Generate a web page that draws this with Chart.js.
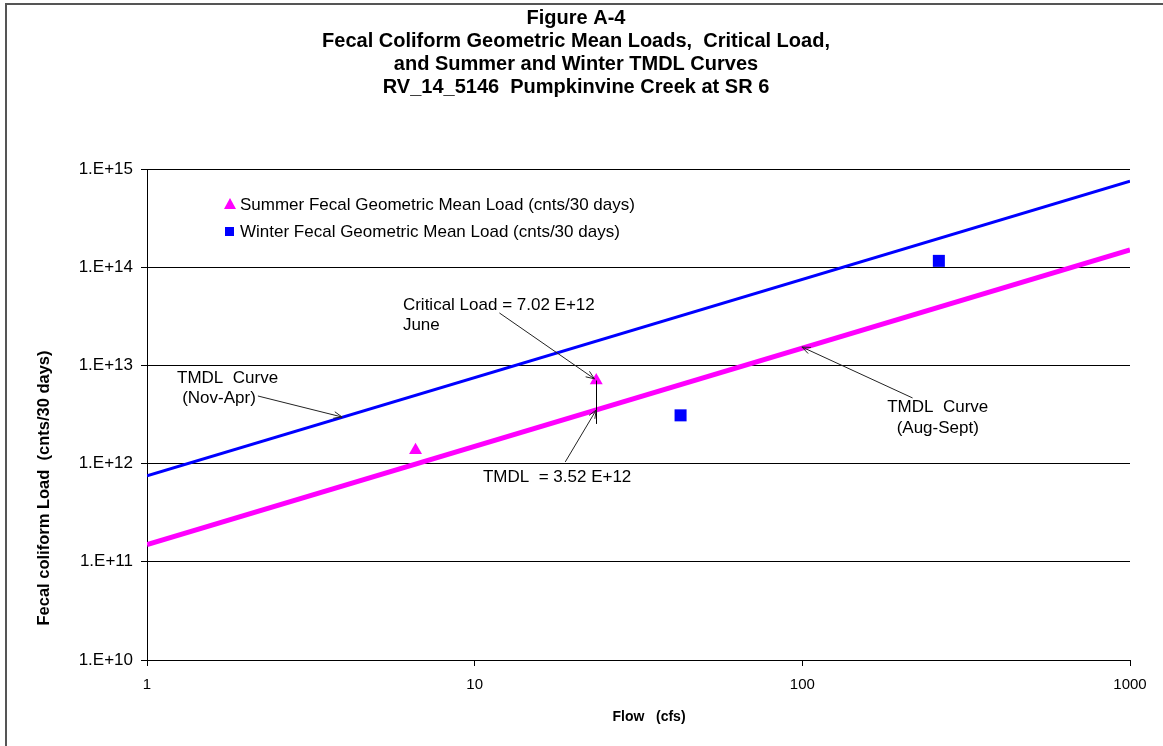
<!DOCTYPE html>
<html>
<head>
<meta charset="utf-8">
<title>Figure A-4</title>
<script src="https://cdn.jsdelivr.net/npm/chart.js@4.4.1/dist/chart.umd.min.js"></script>
<style>
  html, body { margin: 0; padding: 0; background: #fff; }
  #wrap { width: 1163px; height: 746px; position: relative; }
</style>
</head>
<body>
<div id="wrap"><canvas id="chart"></canvas></div>
<script>
// ---- data ----
const titleLines = [
  "Figure A-4",
  "Fecal Coliform Geometric Mean Loads,  Critical Load,",
  "and Summer and Winter TMDL Curves",
  "RV_14_5146  Pumpkinvine Creek at SR 6"
];

const curveFlows = [1, 1000];
const winterCurveLoads = [7.5e11, 7.5e14];   // TMDL curve Nov-Apr
const summerCurveLoads = [1.5e11, 1.5e14];   // TMDL curve Aug-Sept

const summerFlows = [6.6, 23.5];
const summerLoads = [1.37e12, 7.02e12];
const winterFlows = [42.5, 261];
const winterLoads = [3.1e12, 1.16e14];

const criticalFlow = 23.5;
const criticalLoad = 7.02e12;
const tmdlLoad = 3.52e12;

const xTicks = [1, 10, 100, 1000];
const yTicks = [1e10, 1e11, 1e12, 1e13, 1e14, 1e15];

const legendLabels = [
  "Summer Fecal Geometric Mean Load (cnts/30 days)",
  "Winter Fecal Geometric Mean Load (cnts/30 days)"
];

// annotation text + arrows, in data coordinates
const notes = [
  { x: 6.04, y: 4.1e13, text: "Critical Load = 7.02 E+12", align: "left" },
  { x: 6.04, y: 2.58e13, text: "June", align: "left" },
  { x: 1.235, y: 7.44e12, text: "TMDL  Curve", align: "left" },
  { x: 1.28, y: 4.66e12, text: "(Nov-Apr)", align: "left" },
  { x: 259, y: 3.77e12, text: "TMDL  Curve", align: "center" },
  { x: 259, y: 2.3e12, text: "(Aug-Sept)", align: "center" },
  { x: 10.6, y: 7.3e11, text: "TMDL  = 3.52 E+12", align: "left" }
];
const arrows = [
  { from: [11.9, 3.42e13], to: [23.2, 7.3e12] },
  { from: [18.9, 1.04e12], to: [criticalFlow, tmdlLoad] },
  { from: [2.18, 4.88e12], to: [3.94, 2.98e12] },
  { from: [217, 4.66e12], to: [99.7, 1.54e13] }
];

const FONT = "'Liberation Sans', Arial, sans-serif";

const toPts = (xs, ys) => xs.map((x, i) => ({ x: x, y: ys[i] }));
const isDecade = v => Math.abs(Math.log10(v) - Math.round(Math.log10(v))) < 1e-9;

function arrow(ctx, x1, y1, x2, y2) {
  const a = Math.atan2(y2 - y1, x2 - x1);
  const len = 9, spread = 0.38;
  ctx.beginPath();
  ctx.moveTo(x1, y1);
  ctx.lineTo(x2, y2);
  ctx.moveTo(x2 - len * Math.cos(a - spread), y2 - len * Math.sin(a - spread));
  ctx.lineTo(x2, y2);
  ctx.lineTo(x2 - len * Math.cos(a + spread), y2 - len * Math.sin(a + spread));
  ctx.stroke();
}

const decorations = {
  id: "decorations",
  afterDatasetsDraw(chart) {
    const ctx = chart.ctx;
    const xs = chart.scales.x, ys = chart.scales.y;
    ctx.save();

    // frame (top + left edges like the original export)
    ctx.strokeStyle = "#555";
    ctx.lineWidth = 2;
    ctx.beginPath();
    ctx.moveTo(6, 746);
    ctx.lineTo(6, 4);
    ctx.lineTo(1163, 4);
    ctx.stroke();

    // title
    ctx.fillStyle = "#000";
    ctx.textAlign = "center";
    ctx.textBaseline = "middle";
    ctx.font = "bold 20px " + FONT;
    titleLines.forEach((t, i) => ctx.fillText(t, 576, 18 + i * 23));

    // axis titles
    ctx.font = "bold 14px " + FONT;
    ctx.fillText("Flow   (cfs)", 649, 717);
    ctx.save();
    ctx.font = "bold 16.5px " + FONT;
    ctx.translate(44, 488);
    ctx.rotate(-Math.PI / 2);
    ctx.fillText("Fecal coliform Load  (cnts/30 days)", 0, 0);
    ctx.restore();

    // critical load vertical bar
    ctx.strokeStyle = "#000";
    ctx.lineWidth = 1;
    ctx.beginPath();
    const cx = Math.round(xs.getPixelForValue(criticalFlow)) + 0.5;
    ctx.moveTo(cx, ys.getPixelForValue(criticalLoad));
    ctx.lineTo(cx, ys.getPixelForValue(tmdlLoad) + 14);
    ctx.stroke();

    // arrows
    ctx.strokeStyle = "#222";
    arrows.forEach(a => arrow(ctx,
      xs.getPixelForValue(a.from[0]), ys.getPixelForValue(a.from[1]),
      xs.getPixelForValue(a.to[0]), ys.getPixelForValue(a.to[1])));

    // notes
    ctx.fillStyle = "#000";
    ctx.font = "17px " + FONT;
    notes.forEach(n => {
      ctx.textAlign = n.align;
      ctx.fillText(n.text, xs.getPixelForValue(n.x), ys.getPixelForValue(n.y));
    });

    // legend
    ctx.textAlign = "left";
    ctx.fillText(legendLabels[0], 240, 205);
    ctx.fillText(legendLabels[1], 240, 232);
    ctx.fillStyle = "#FF00FF";
    ctx.beginPath();
    ctx.moveTo(230, 198);
    ctx.lineTo(236, 209);
    ctx.lineTo(224, 209);
    ctx.closePath();
    ctx.fill();
    ctx.fillStyle = "#0000FF";
    ctx.fillRect(225, 227, 9, 9);

    ctx.restore();
  }
};

new Chart(document.getElementById("chart"), {
  type: "scatter",
  data: {
    datasets: [
      {
        label: "TMDL Curve (Nov-Apr)",
        data: toPts(curveFlows, winterCurveLoads),
        showLine: true,
        borderColor: "#0000FF",
        borderWidth: 3,
        pointRadius: 0
      },
      {
        label: "TMDL Curve (Aug-Sept)",
        data: toPts(curveFlows, summerCurveLoads),
        showLine: true,
        borderColor: "#FF00FF",
        borderWidth: 5,
        pointRadius: 0
      },
      {
        label: legendLabels[0],
        data: toPts(summerFlows, summerLoads),
        pointStyle: "triangle",
        pointRadius: 7.5,
        backgroundColor: "#FF00FF",
        borderColor: "#FF00FF",
        borderWidth: 0
      },
      {
        label: legendLabels[1],
        data: toPts(winterFlows, winterLoads),
        pointStyle: "rect",
        pointRadius: 8.5,
        backgroundColor: "#0000FF",
        borderColor: "#0000FF",
        borderWidth: 0
      }
    ]
  },
  options: {
    responsive: true,
    maintainAspectRatio: false,
    animation: false,
    layout: { padding: { top: 169, right: 33, bottom: 0, left: 0 } },
    plugins: {
      legend: { display: false },
      tooltip: { enabled: false }
    },
    scales: {
      x: {
        type: "logarithmic",
        min: xTicks[0],
        max: xTicks[xTicks.length - 1],
        afterBuildTicks: s => { s.ticks = xTicks.map(v => ({ value: v })); },
        afterFit: s => { s.height = 86; },
        border: { color: "#000", width: 1 },
        grid: { drawOnChartArea: false, color: "#000", tickLength: 6 },
        ticks: {
          color: "#000",
          font: { family: FONT, size: 15 },
          padding: 10,
          maxRotation: 0,
          callback: v => String(v)
        }
      },
      y: {
        type: "logarithmic",
        min: yTicks[0],
        max: yTicks[yTicks.length - 1],
        afterBuildTicks: s => { s.ticks = yTicks.map(v => ({ value: v })); },
        afterFit: s => { s.width = 147; },
        border: { color: "#000", width: 1 },
        grid: { color: "#000", tickLength: 6 },
        ticks: {
          color: "#000",
          font: { family: FONT, size: 17 },
          padding: 8,
          callback: v => isDecade(v) ? "1.E+" + Math.round(Math.log10(v)) : ""
        }
      }
    }
  },
  plugins: [decorations]
});
</script>
</body>
</html>
